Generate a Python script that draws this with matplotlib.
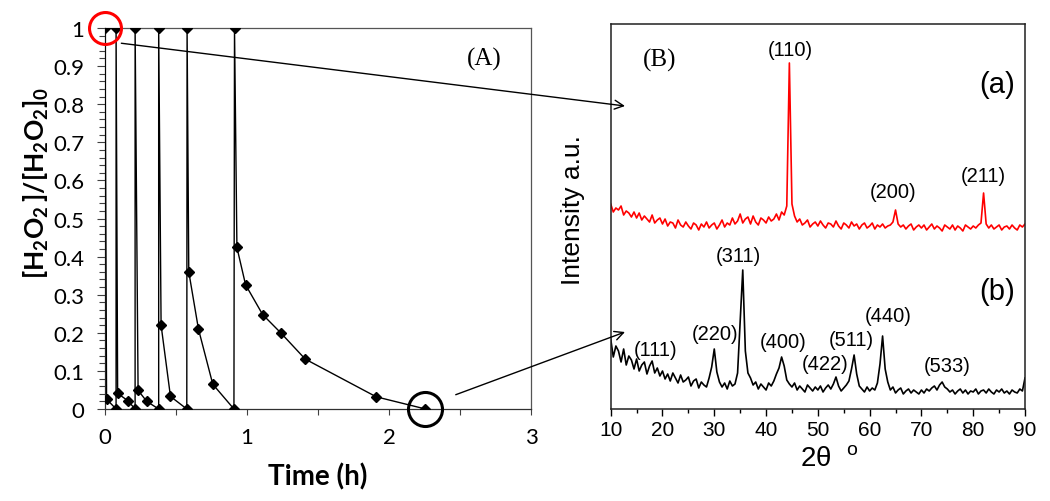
import numpy as np
import matplotlib.pyplot as plt
from matplotlib.patches import ConnectionPatch

plt.rcParams['mathtext.fontset'] = 'custom'
plt.rcParams['mathtext.rm'] = 'Liberation Sans'
plt.rcParams['mathtext.bf'] = 'Lato:bold'

# (A) H2O2 decomposition, repeated additions
time_h = [0, 0.011, 0.078, 0.078, 0.089, 0.16, 0.212, 0.212, 0.233, 0.294,
          0.378, 0.378, 0.395, 0.461, 0.576, 0.578, 0.59, 0.658, 0.759, 0.908,
          0.912, 0.929, 0.99, 1.11, 1.24, 1.41, 1.91, 2.257]
ratio = [1, 0.026, 0, 1, 0.041, 0.022, 0, 1, 0.049, 0.020,
         0, 1, 0.22, 0.033, 0, 1, 0.36, 0.21, 0.065, 0,
         1, 0.424, 0.326, 0.248, 0.199, 0.131, 0.032, 0]

# (B) XRD patterns, 10-90 deg every 0.5 deg (arbitrary units)
two_theta = np.arange(10, 90.5, 0.5)
xrd_a = [205, 197, 201, 199, 203, 194, 198, 196, 192, 197,
         191, 196, 189, 193, 190, 187, 194, 186, 189, 191,
         185, 190, 183, 187, 186, 181, 189, 184, 182, 187,
         183, 180, 186, 184, 179, 185, 182, 187, 181, 184,
         186, 180, 184, 189, 182, 186, 184, 191, 185, 188,
         195, 186, 190, 192, 185, 193, 187, 184, 191, 189,
         186, 192, 188, 190, 195, 189, 197, 194, 203, 346,
         205, 193, 187, 190, 184, 186, 189, 182, 185, 187,
         183, 188, 184, 181, 186, 185, 182, 188, 183, 180,
         186, 184, 181, 187, 183, 185, 180, 184, 186, 181,
         183, 186, 180, 184, 182, 185, 181, 183, 184, 187,
         199, 185, 182, 184, 180, 183, 185, 179, 182, 184,
         181, 184, 179, 182, 185, 180, 183, 181, 178, 184,
         182, 180, 184, 179, 183, 181, 178, 184, 182, 180,
         183, 181, 184, 186, 216, 185, 181, 184, 180, 182,
         184, 179, 182, 183, 180, 184, 181, 179, 184, 182,
         185]
xrd_b = [70, 52, 63, 58, 47, 60, 44, 53, 49, 40,
         50, 38, 44, 47, 35, 43, 48, 36, 41, 33,
         38, 30, 35, 28, 36, 31, 26, 34, 27, 29,
         32, 23, 28, 30, 21, 27, 24, 22, 31, 42,
         60, 37, 27, 22, 26, 20, 28, 23, 25, 36,
         88, 139, 58, 36, 31, 24, 27, 20, 25, 22,
         19, 26, 23, 28, 35, 41, 52, 43, 29, 25,
         22, 26, 19, 23, 20, 17, 24, 21, 18, 22,
         19, 23, 17, 21, 24, 20, 25, 32, 23, 18,
         21, 24, 28, 40, 54, 35, 23, 20, 17, 22,
         18, 21, 19, 26, 45, 73, 40, 27, 19, 22,
         16, 19, 21, 15, 18, 20, 16, 19, 17, 15,
         19, 16, 20, 18, 21, 23, 19, 24, 27, 22,
         20, 17, 19, 15, 18, 20, 16, 19, 15, 18,
         17, 20, 15, 18, 19, 16, 20, 17, 15, 19,
         17, 20, 16, 18, 15, 19, 17, 16, 20, 18,
         31]

peaks_a = ['(110)', '(200)', '(211)']
peaks_a_x = [44.6, 64.5, 81.9]
peaks_a_y = [360, 217, 234]
peaks_b = ['(111)', '(220)', '(311)', '(400)', '(422)', '(511)', '(440)', '(533)']
peaks_b_x = [18.6, 30.1, 34.6, 43.2, 51.5, 56.5, 63.5, 74.9]
peaks_b_y = [60, 75, 154, 67, 45, 69, 93, 43]

fig = plt.figure(figsize=(10.5, 5.02), dpi=100)
W, H = 1050, 502

# ---- panel A
ax1 = fig.add_axes([105 / W, 1 - 410 / H, 426 / W, 381 / H])
ax1.plot(time_h, ratio, color='black', lw=1.0, marker='D', ms=5.5, zorder=3)
ax1.set_xlim(0, 3)
ax1.set_ylim(0, 1)
ax1.set_xticks(np.arange(0, 3.01, 0.5))
ax1.set_xticklabels(['0', '', '1', '', '2', '', '3'])
ax1.set_yticks(np.arange(0, 1.01, 0.1))
ax1.set_yticklabels(['0', '0.1', '0.2', '0.3', '0.4', '0.5', '0.6', '0.7', '0.8', '0.9', '1'])
ax1.set_yticks(np.arange(0, 1.001, 0.02), minor=True)
ax1.tick_params(axis='y', which='major', length=6, width=0.8, pad=9, labelsize=16,
                direction='out', color='#404040')
ax1.tick_params(axis='y', which='minor', length=4, width=0.8, direction='out', color='#404040')
ax1.tick_params(axis='x', length=4, width=0.8, pad=9, labelsize=16, color='#404040')
for lab in ax1.get_xticklabels() + ax1.get_yticklabels():
    lab.set_family('Lato')
for s in ['left', 'bottom']:
    ax1.spines[s].set_color('#303030')
    ax1.spines[s].set_linewidth(0.9)
for s in ['top', 'right']:
    ax1.spines[s].set_color('#555555')
    ax1.spines[s].set_linewidth(0.9)
ax1.text(0.89, 0.919, '(A)', transform=ax1.transAxes, ha='center', va='center',
         fontsize=18, family='Liberation Serif')
# highlight circles on first and last points
ax1.plot(time_h[0], ratio[0], 'o', ms=23, mfc='none', mec='red', mew=2.2,
         clip_on=False, zorder=5)
ax1.plot(time_h[-1], ratio[-1], 'o', ms=24.5, mfc='none', mec='black', mew=2.2,
         clip_on=False, zorder=5)

fig.text(36 / W, 1 - 183 / H, r'$\mathbf{[H_2O_2\,]/[H_2O_2]_0}$', rotation=90,
         ha='center', va='center', fontsize=19)
fig.text(318 / W, 1 - 477 / H, 'Time (h)', ha='center', va='center',
         fontsize=20, family='Lato', fontweight='bold')

# ---- panel B
ax2 = fig.add_axes([610.7 / W, 1 - 410 / H, 414.3 / W, 385 / H])
ax2.plot(two_theta, xrd_a, color='red', lw=1.2)
ax2.plot(two_theta, xrd_b, color='black', lw=1.2)
ax2.set_xlim(10, 90)
ax2.set_ylim(0, 385)
ax2.set_xticks(np.arange(10, 91, 10))
ax2.set_xticks(np.arange(10, 91, 5), minor=True)
ax2.set_yticks([])
ax2.tick_params(axis='x', which='major', length=5, width=1, pad=3, labelsize=15)
ax2.tick_params(axis='x', which='minor', length=3, width=1)
for lab in ax2.get_xticklabels():
    lab.set_family('Liberation Sans')
for s in ax2.spines.values():
    s.set_linewidth(1.1)
    s.set_color('#202020')
for lab, x, y in zip(peaks_a, peaks_a_x, peaks_a_y):
    ax2.text(x, y, lab, ha='center', va='center', fontsize=14.5, family='Liberation Sans')
for lab, x, y in zip(peaks_b, peaks_b_x, peaks_b_y):
    ax2.text(x, y, lab, ha='center', va='center', fontsize=14.5, family='Liberation Sans')
ax2.text(0.119, 0.909, '(B)', transform=ax2.transAxes, ha='center', va='center',
         fontsize=18, family='Liberation Serif')
ax2.text(0.932, 0.844, '(a)', transform=ax2.transAxes, ha='center', va='center',
         fontsize=21, family='Liberation Sans')
ax2.text(0.932, 0.307, '(b)', transform=ax2.transAxes, ha='center', va='center',
         fontsize=21, family='Liberation Sans')

fig.text(573 / W, 1 - 210 / H, 'Intensity a.u.', rotation=90, ha='center', va='center',
         fontsize=19, family='Liberation Sans')
fig.text(829 / W, 1 - 460 / H, r'2θ  $^{\mathrm{o}}$', ha='center', va='center',
         fontsize=20, family='Liberation Sans')

# ---- arrows linking the two panels
for start, end in [((0.115, 0.96), (12.76, 303)), ((2.47, 0.0375), (12.76, 77))]:
    con = ConnectionPatch(xyA=start, coordsA=ax1.transData, xyB=end, coordsB=ax2.transData,
                          arrowstyle='->', mutation_scale=16, lw=1.0, color='black')
    fig.add_artist(con)

fig.savefig('out.png', dpi=100)
